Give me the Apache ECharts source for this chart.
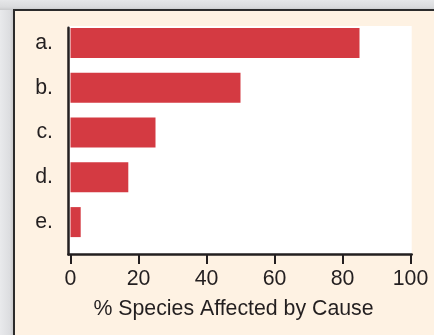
<!DOCTYPE html>
<html><head><meta charset="utf-8">
<script src="https://cdn.jsdelivr.net/npm/echarts@6/dist/echarts.min.js"></script>
<style>
html,body{margin:0;padding:0;width:434px;height:335px;overflow:hidden;}
body{background:linear-gradient(90deg,#e9eaec 0px,#dcdde0 10px,#c9cacc 13px);}
#top{position:absolute;left:0;top:0;width:434px;height:10px;background:linear-gradient(180deg,#e6e7e9 0px,#dadbdd 7px,#c8c9cb 10px);}
#frame{position:absolute;left:13px;top:9px;width:421px;height:326px;background:#fef2e3;border-left:2px solid #2b2b2b;border-top:2px solid #2b2b2b;box-sizing:border-box;}
#chart{position:absolute;left:0;top:0;width:434px;height:335px;}
</style></head>
<body>
<div id="top"></div>
<div id="frame"></div>
<div id="chart"></div>
<script>
const categories = ['a.', 'b.', 'c.', 'd.', 'e.'];
const values = [85, 50, 25, 17, 3];
const xTicks = [0, 20, 40, 60, 80, 100];
const xTitle = '% Species Affected by Cause';

const ink = '#231f20';
const font = 'Liberation Sans, Arial, sans-serif';
const chart = echarts.init(document.getElementById('chart'), null, {renderer: 'canvas'});
const hiddenAxis = {axisLine: {show: false}, axisTick: {show: false}, axisLabel: {show: false}, splitLine: {show: false}};
chart.setOption({
  backgroundColor: 'transparent',
  animation: false,
  grid: [
    {left: 70.5, right: 23.5, top: 20.5, height: 224},
    {left: 68.5, right: 22.3, top: 26, bottom: 80.5, show: true, backgroundColor: '#ffffff', borderWidth: 0, z: 0},
    {left: 68.5, right: 22.3, top: 27.7, bottom: 80.5}
  ],
  xAxis: [
    {
      gridIndex: 0, type: 'value', min: xTicks[0], max: xTicks[xTicks.length - 1], interval: 20,
      offset: 10.5,
      axisLine: {show: false},
      axisTick: {show: true, length: 9, lineStyle: {color: ink, width: 2}},
      axisLabel: {show: true, color: ink, fontSize: 21.3, fontFamily: font, margin: 14},
      splitLine: {show: false},
      name: xTitle, nameLocation: 'middle', nameGap: 44,
      nameTextStyle: {color: ink, fontSize: 21.3, fontFamily: font, padding: [0, 14, 0, 0]}
    },
    Object.assign({gridIndex: 1, type: 'value', min: 0, max: 100}, hiddenAxis,
      {axisLine: {show: true, lineStyle: {color: ink, width: 2.5}}}),
    Object.assign({gridIndex: 2, type: 'value', min: 0, max: 100}, hiddenAxis)
  ],
  yAxis: [
    {
      gridIndex: 0, type: 'category', data: categories, inverse: true,
      axisLine: {show: false}, axisTick: {show: false},
      axisLabel: {color: ink, fontSize: 21.3, fontFamily: font, margin: 17.5},
      splitLine: {show: false}
    },
    Object.assign({gridIndex: 1, type: 'value', min: 0, max: 1}, hiddenAxis),
    Object.assign({gridIndex: 2, type: 'value', min: 0, max: 1}, hiddenAxis,
      {axisLine: {show: true, lineStyle: {color: ink, width: 2.5}}})
  ],
  series: [{
    type: 'bar', xAxisIndex: 0, yAxisIndex: 0, data: values,
    barWidth: 30, z: 3,
    itemStyle: {color: '#d43a42'}
  }]
});
</script>
</body></html>
